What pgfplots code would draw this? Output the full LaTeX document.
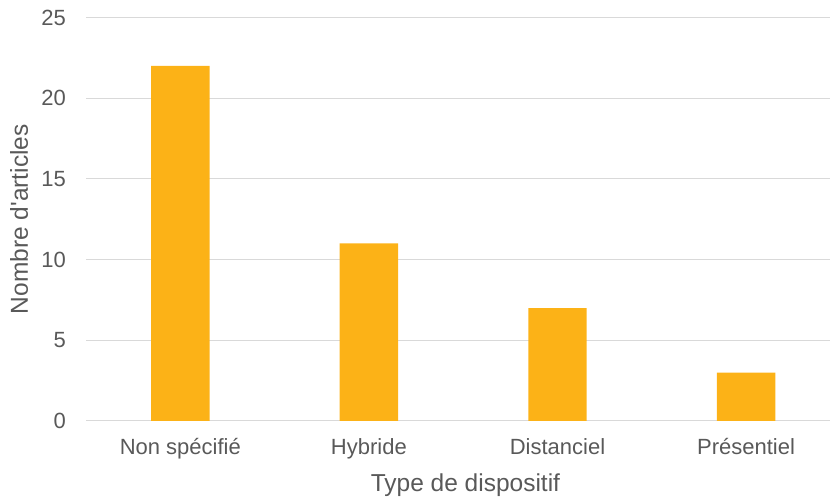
\documentclass[border=0pt]{standalone}
\usepackage{pgfplots}
\pgfplotsset{compat=1.18}
\usepackage{fontspec}
\setmainfont{Liberation Sans}
\definecolor{barc}{RGB}{252,178,23}
\definecolor{gridc}{RGB}{217,217,217}
\definecolor{txt}{RGB}{89,89,89}
\begin{document}
\begin{tikzpicture}
\path[use as bounding box] (0,0) rectangle (830pt,497pt);
\begin{axis}[
  at={(86pt,76pt)}, anchor=south west,
  scale only axis, width=744pt, height=403.5pt,
  xmin=-0.5, xmax=3.445, ymin=0, ymax=25,
  ytick={0,5,10,15,20,25},
  xtick={0,1,2,3},
  xticklabels={Non spécifié,Hybride,Distanciel,Présentiel},
  axis line style={draw=none},
  major tick length=0pt,
  ymajorgrids,
  grid style={gridc, line width=1pt},
  /pgf/number format/assume math mode=true,
  ticklabel style={font=\fontsize{22}{26}\selectfont, text=txt},
  yticklabel style={anchor=east, inner sep=0pt, xshift=-20pt},
  xticklabel style={anchor=north, inner sep=0pt, text height=16pt, text depth=5pt, yshift=-17pt},
  label style={font=\fontsize{24.5}{29}\selectfont, text=txt, inner sep=0pt},
  xlabel={Type de dispositif},
  ylabel={Nombre d\textquotesingle articles},
  xlabel style={at={([yshift=-70.5pt]axis description cs:0.51,0)}, anchor=base},
  ylabel style={at={([xshift=-58pt]axis description cs:0,0.5)}, anchor=base},
]
\addplot[ybar, bar width=0.31, fill=barc, draw=none] coordinates {(0,22) (1,11) (2,7) (3,3)};
\end{axis}
\end{tikzpicture}
\end{document}
